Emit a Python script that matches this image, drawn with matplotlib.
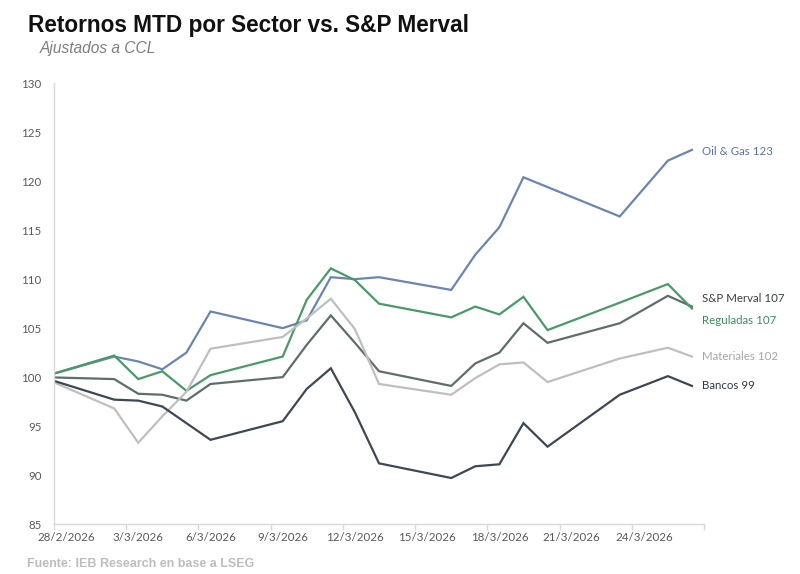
import datetime as dt
import matplotlib
matplotlib.use("Agg")
import matplotlib.pyplot as plt
import matplotlib.dates as mdates

# fechas (27/2 = base 100, queda fuera del eje)
fechas = ["2026-02-27", "2026-03-02", "2026-03-03", "2026-03-04", "2026-03-05",
          "2026-03-06", "2026-03-09", "2026-03-10", "2026-03-11", "2026-03-12",
          "2026-03-13", "2026-03-16", "2026-03-17", "2026-03-18", "2026-03-19",
          "2026-03-20", "2026-03-23", "2026-03-25", "2026-03-26"]

oil_gas = [100, 102.1, 101.6, 100.8, 102.5, 106.7, 105.0, 105.8, 110.2, 110.0,
           110.2, 108.9, 112.5, 115.3, 120.4, 119.4, 116.4, 122.1, 123.2]
reguladas = [100, 102.2, 99.8, 100.6, 98.6, 100.2, 102.1, 107.9, 111.1, 109.9,
             107.5, 106.1, 107.2, 106.4, 108.2, 104.8, 107.6, 109.5, 107.0]
merval = [100, 99.8, 98.3, 98.2, 97.6, 99.3, 100.0, 103.3, 106.3, 103.5,
          100.6, 99.1, 101.4, 102.5, 105.5, 103.5, 105.5, 108.3, 107.2]
materiales = [100, 96.8, 93.3, 96.0, 98.5, 102.9, 104.1, 106.0, 108.0, 104.9,
              99.3, 98.2, 99.9, 101.3, 101.5, 99.5, 101.9, 103.0, 102.1]
bancos = [100, 97.7, 97.6, 97.0, 95.3, 93.6, 95.5, 98.8, 100.9, 96.4,
          91.2, 89.7, 90.9, 91.1, 95.3, 92.9, 98.2, 100.1, 99.1]

etiquetas = ["Oil & Gas 123", "S&P Merval 107", "Reguladas 107", "Materiales 102", "Bancos 99"]

x = [dt.datetime.strptime(f, "%Y-%m-%d") for f in fechas]

series = [
    (oil_gas, "#6B84B6", "#5A73A5", -0.2),
    (merval, "#5E6E6A", "#3A403F", 0.8),
    (reguladas, "#4A9A68", "#3E8C5C", -1.2),
    (materiales, "#BFBFBF", "#A6A6A6", 0.0),
    (bancos, "#3D4852", "#2E3945", 0.0),
]

fig = plt.figure(figsize=(8, 5.74), dpi=100)
ax = fig.add_axes([0.0675, 0.087, 0.8125, 0.768])

for (vals, col, txtcol, off), lab in zip(series, etiquetas):
    ax.plot(x, vals, color=col, lw=1.6, solid_joinstyle="miter")
    ax.annotate(lab, xy=(x[-1], vals[-1] + off), xytext=(7.5, 0),
                textcoords="offset points", va="center", ha="left",
                fontsize=8.3, color=txtcol, family="Lato")

inicio = dt.datetime(2026, 2, 27, 12)
fin = dt.datetime(2026, 3, 26, 12)
ax.set_xlim(inicio, fin)
ax.set_ylim(85, 130)
ax.set_yticks(range(85, 131, 5))

labels_x = [dt.datetime(2026, 2, 28) + dt.timedelta(days=3 * i) for i in range(9)]
ax.set_xticks(labels_x)
ax.set_xticklabels([f"{d.day}/{d.month}/{d.year}" for d in labels_x])
ax.set_xticks([inicio + dt.timedelta(days=3 * i) for i in range(10)], minor=True)
ax.tick_params(axis="x", which="major", length=0, pad=6)
ax.tick_params(axis="x", which="minor", length=4, color="#D9D9D9", width=1)
ax.tick_params(axis="y", length=0, pad=9)
ax.tick_params(labelsize=8.3, labelcolor="#595959")
for t in ax.get_xticklabels() + ax.get_yticklabels():
    t.set_family("Lato")

for s in ["top", "right"]:
    ax.spines[s].set_visible(False)
ax.spines["left"].set_color("#D9D9D9")
ax.spines["bottom"].set_color("#D9D9D9")
ax.spines["left"].set_linewidth(1)
ax.spines["bottom"].set_linewidth(1)

fig.text(0.035, 0.956, "Retornos MTD por Sector vs. S&P Merval", fontsize=16.3,
         fontweight="bold", family="Liberation Sans", color="#111111", va="center")
fig.text(0.05, 0.916, "Ajustados a CCL", fontsize=11.2, style="italic",
         family="Liberation Sans", color="#7F7F7F", va="center")
fig.text(0.034, 0.018, "Fuente: IEB Research en base a LSEG", fontsize=9,
         fontweight="bold", family="Liberation Sans", color="#BDBDBD", va="center")

fig.savefig("out.png", dpi=100)
